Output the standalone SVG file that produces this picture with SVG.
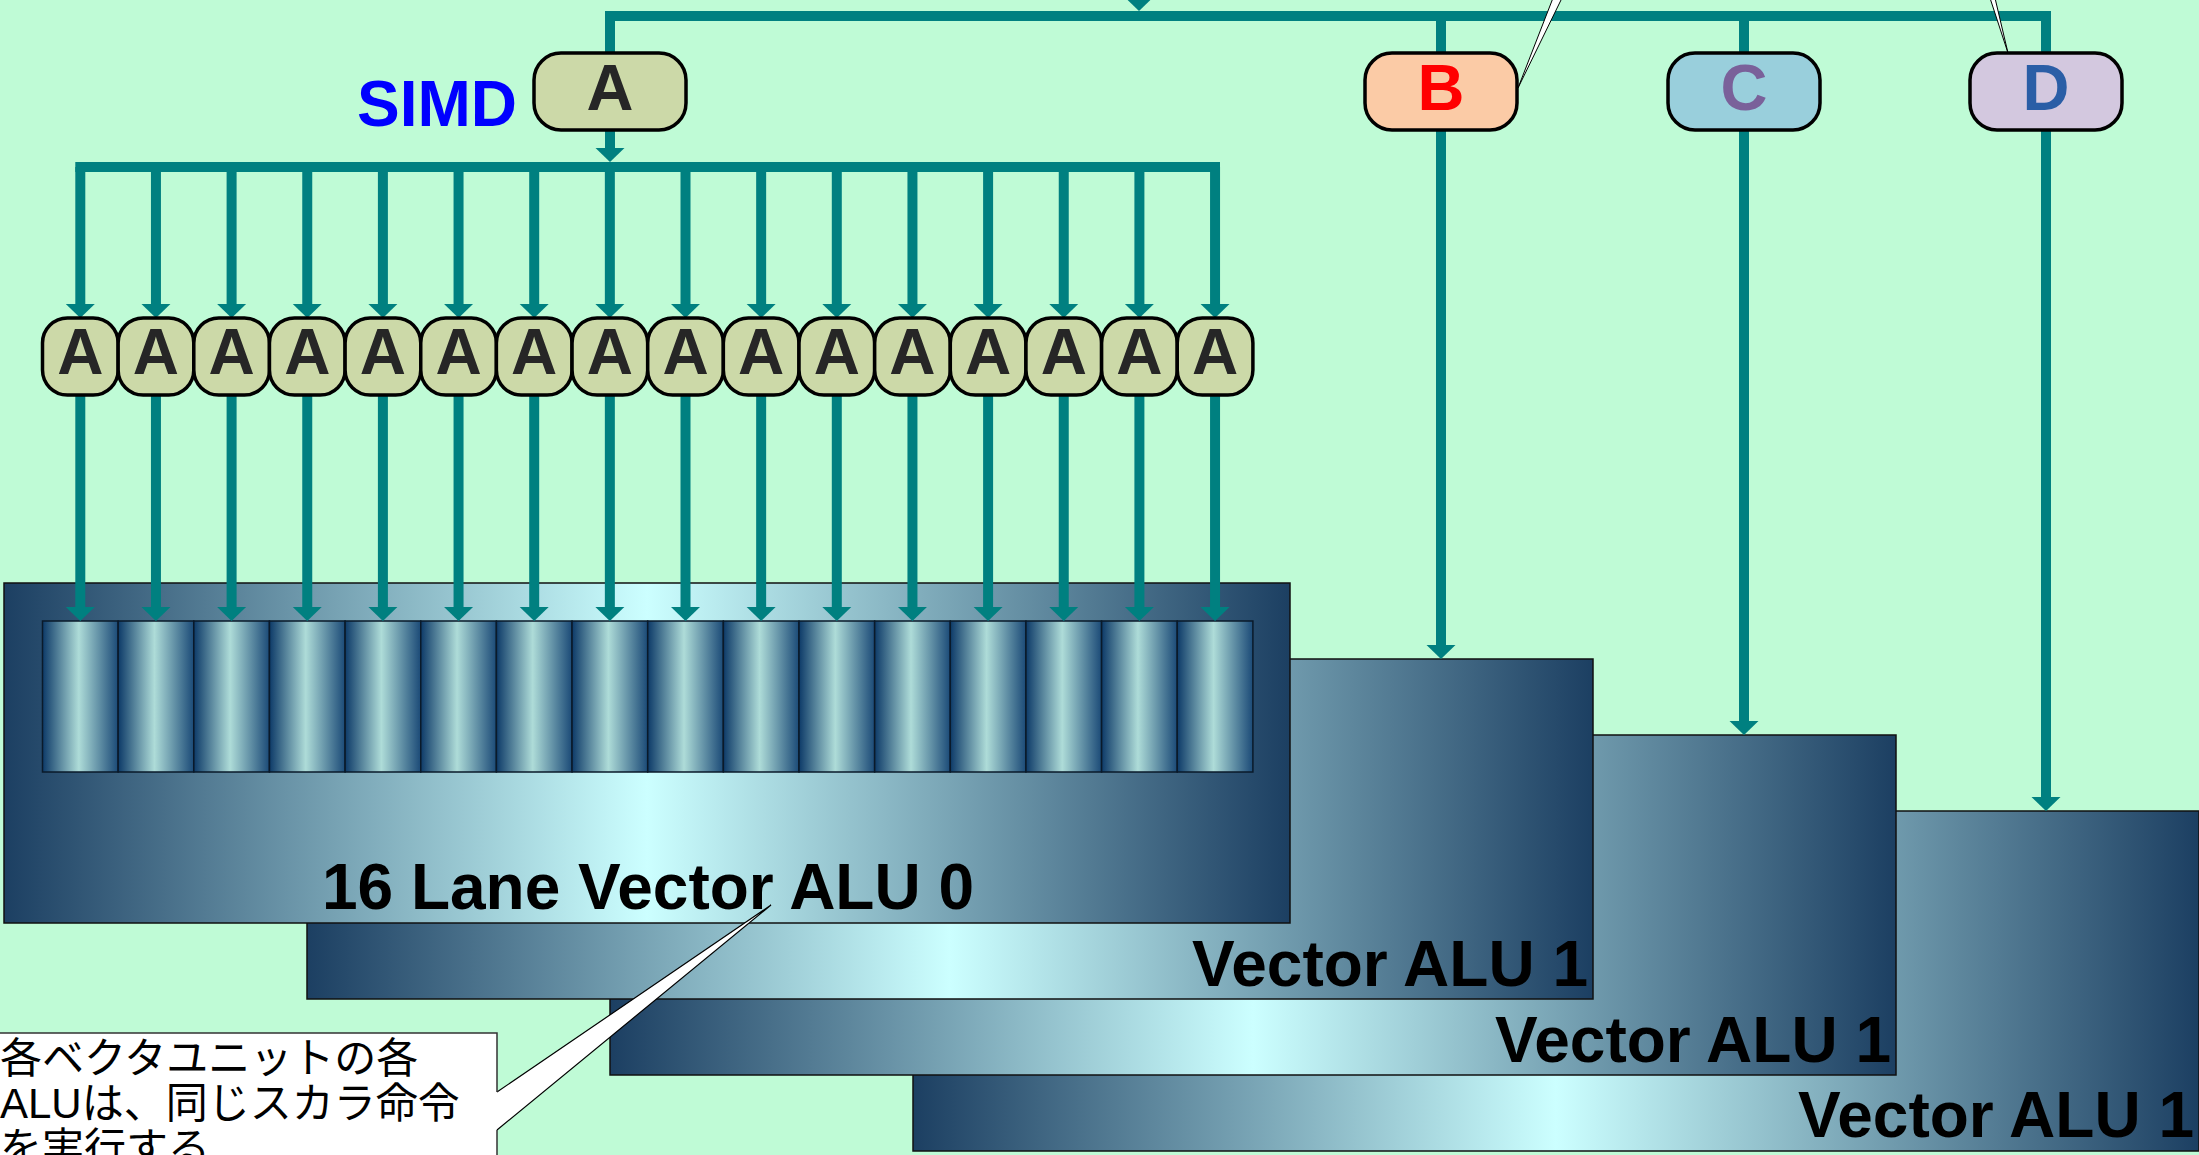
<svg xmlns="http://www.w3.org/2000/svg" width="2199" height="1155" viewBox="0 0 2199 1155">
<style>
.bus{stroke:#008080;stroke-width:10;fill:none;stroke-linecap:butt;stroke-linejoin:miter}
.arr{stroke:#008080;stroke-width:10;fill:none;marker-end:url(#ah)}
.node{stroke:#000;stroke-width:3.5}
.lbl{font-family:"Liberation Sans",Arial,sans-serif;font-weight:bold;text-anchor:middle}
.alu{stroke:#111;stroke-width:1.5;fill:url(#aluGrad)}
.lane{stroke:#0a1a2a;stroke-width:1.5;fill:url(#laneGrad)}
.alut{font-family:"Liberation Sans",Arial,sans-serif;font-weight:bold;font-size:64px;fill:#000}
.jp{font-family:"Liberation Sans","Noto Sans CJK JP",sans-serif;font-size:42px;fill:#000}
</style>
<defs>
<linearGradient id="aluGrad" x1="0" y1="0" x2="1" y2="0">
<stop offset="0" stop-color="#1C3F62"/>
<stop offset="0.5" stop-color="#CCFFFF"/>
<stop offset="1" stop-color="#1C3F62"/>
</linearGradient>
<linearGradient id="laneGrad" x1="0" y1="0" x2="1" y2="0">
<stop offset="0" stop-color="#0D3A68"/>
<stop offset="0.48" stop-color="#AEDCD8"/>
<stop offset="1" stop-color="#1B4A77"/>
</linearGradient>
<marker id="ah" markerUnits="userSpaceOnUse" markerWidth="15" markerHeight="30" viewBox="0 -15 15 30" refX="0" refY="0" orient="auto">
<path d="M0,-14.5 L14,0 L0,14.5 z" fill="#008080"/>
</marker>
</defs>
<rect x="0" y="0" width="2199" height="1155" fill="#BFFBD6"/>

<g id="alu3"><rect class="alu" x="913" y="811" width="1286" height="340"/><text class="alut" x="2194" y="1137" text-anchor="end">Vector ALU 1</text></g>
<g id="alu2"><rect class="alu" x="610" y="735" width="1286" height="340"/><text class="alut" x="1891" y="1062" text-anchor="end">Vector ALU 1</text></g>
<g id="alu1"><rect class="alu" x="307" y="659" width="1286" height="340"/><text class="alut" x="1588" y="986" text-anchor="end">Vector ALU 1</text></g>
<g id="alu0">
<rect class="alu" x="4" y="583" width="1286" height="340"/>
<g id="lanes">
<rect class="lane" x="42.5" y="621" width="75.65" height="151"/>
<rect class="lane" x="118.15" y="621" width="75.65" height="151"/>
<rect class="lane" x="193.8" y="621" width="75.65" height="151"/>
<rect class="lane" x="269.45" y="621" width="75.65" height="151"/>
<rect class="lane" x="345.1" y="621" width="75.65" height="151"/>
<rect class="lane" x="420.75" y="621" width="75.65" height="151"/>
<rect class="lane" x="496.4" y="621" width="75.65" height="151"/>
<rect class="lane" x="572.05" y="621" width="75.65" height="151"/>
<rect class="lane" x="647.7" y="621" width="75.65" height="151"/>
<rect class="lane" x="723.35" y="621" width="75.65" height="151"/>
<rect class="lane" x="799" y="621" width="75.65" height="151"/>
<rect class="lane" x="874.65" y="621" width="75.65" height="151"/>
<rect class="lane" x="950.3" y="621" width="75.65" height="151"/>
<rect class="lane" x="1025.95" y="621" width="75.65" height="151"/>
<rect class="lane" x="1101.6" y="621" width="75.65" height="151"/>
<rect class="lane" x="1177.25" y="621" width="75.65" height="151"/>
</g>
<text class="alut" x="648" y="909" text-anchor="middle">16 Lane Vector ALU 0</text>
</g>

<g id="connectors">
<path class="bus" d="M610,53 V16 H2046 V53"/>
<path class="bus" d="M1441,16 V53 M1744,16 V53"/>
<line class="arr" x1="1139" y1="-30" x2="1139" y2="-3"/>
<line class="arr" x1="610" y1="130" x2="610" y2="148"/>
<path class="bus" d="M75.3,167 H1220"/>
<line class="arr" x1="1441" y1="130" x2="1441" y2="645"/>
<line class="arr" x1="1744" y1="130" x2="1744" y2="721"/>
<line class="arr" x1="2046" y1="130" x2="2046" y2="797"/>
<g id="fanout">
<line class="arr" x1="80.3" y1="167" x2="80.3" y2="304"/>
<line class="arr" x1="155.95" y1="167" x2="155.95" y2="304"/>
<line class="arr" x1="231.6" y1="167" x2="231.6" y2="304"/>
<line class="arr" x1="307.25" y1="167" x2="307.25" y2="304"/>
<line class="arr" x1="382.9" y1="167" x2="382.9" y2="304"/>
<line class="arr" x1="458.55" y1="167" x2="458.55" y2="304"/>
<line class="arr" x1="534.2" y1="167" x2="534.2" y2="304"/>
<line class="arr" x1="609.85" y1="167" x2="609.85" y2="304"/>
<line class="arr" x1="685.5" y1="167" x2="685.5" y2="304"/>
<line class="arr" x1="761.15" y1="167" x2="761.15" y2="304"/>
<line class="arr" x1="836.8" y1="167" x2="836.8" y2="304"/>
<line class="arr" x1="912.45" y1="167" x2="912.45" y2="304"/>
<line class="arr" x1="988.1" y1="167" x2="988.1" y2="304"/>
<line class="arr" x1="1063.75" y1="167" x2="1063.75" y2="304"/>
<line class="arr" x1="1139.4" y1="167" x2="1139.4" y2="304"/>
<line class="arr" x1="1215.05" y1="167" x2="1215.05" y2="304"/>
</g>
<g id="lanefeeds">
<line class="arr" x1="80.3" y1="395" x2="80.3" y2="607"/>
<line class="arr" x1="155.95" y1="395" x2="155.95" y2="607"/>
<line class="arr" x1="231.6" y1="395" x2="231.6" y2="607"/>
<line class="arr" x1="307.25" y1="395" x2="307.25" y2="607"/>
<line class="arr" x1="382.9" y1="395" x2="382.9" y2="607"/>
<line class="arr" x1="458.55" y1="395" x2="458.55" y2="607"/>
<line class="arr" x1="534.2" y1="395" x2="534.2" y2="607"/>
<line class="arr" x1="609.85" y1="395" x2="609.85" y2="607"/>
<line class="arr" x1="685.5" y1="395" x2="685.5" y2="607"/>
<line class="arr" x1="761.15" y1="395" x2="761.15" y2="607"/>
<line class="arr" x1="836.8" y1="395" x2="836.8" y2="607"/>
<line class="arr" x1="912.45" y1="395" x2="912.45" y2="607"/>
<line class="arr" x1="988.1" y1="395" x2="988.1" y2="607"/>
<line class="arr" x1="1063.75" y1="395" x2="1063.75" y2="607"/>
<line class="arr" x1="1139.4" y1="395" x2="1139.4" y2="607"/>
<line class="arr" x1="1215.05" y1="395" x2="1215.05" y2="607"/>
</g>
</g>

<g id="simd-label"><text class="lbl" x="517" y="126" font-size="64" fill="#0000FF" text-anchor="end" style="text-anchor:end">SIMD</text></g>
<g id="nodeA"><rect class="node" x="534" y="53" width="152" height="77" rx="27" fill="#CCD9A8"/><text class="lbl" x="610" y="110" font-size="65" fill="#262626">A</text></g>
<g id="nodeB"><rect class="node" x="1365" y="53" width="152" height="77" rx="27" fill="#FBCBA6"/><text class="lbl" x="1441" y="110" font-size="65" fill="#FF0000">B</text></g>
<g id="nodeC"><rect class="node" x="1668" y="53" width="152" height="77" rx="27" fill="#99CFDC"/><text class="lbl" x="1744" y="110" font-size="65" fill="#7A619A">C</text></g>
<g id="nodeD"><rect class="node" x="1970" y="53" width="152" height="77" rx="27" fill="#D3C8DF"/><text class="lbl" x="2046" y="110" font-size="65" fill="#2A5EA6">D</text></g>

<g id="laneNodes" fill="#CCD9A8">
<g id="a0"><rect class="node" x="42.5" y="318" width="75.65" height="77" rx="25"/><text class="lbl" x="80.3" y="374" font-size="64" fill="#262626">A</text></g>
<g id="a1"><rect class="node" x="118.15" y="318" width="75.65" height="77" rx="25"/><text class="lbl" x="155.95" y="374" font-size="64" fill="#262626">A</text></g>
<g id="a2"><rect class="node" x="193.8" y="318" width="75.65" height="77" rx="25"/><text class="lbl" x="231.6" y="374" font-size="64" fill="#262626">A</text></g>
<g id="a3"><rect class="node" x="269.45" y="318" width="75.65" height="77" rx="25"/><text class="lbl" x="307.25" y="374" font-size="64" fill="#262626">A</text></g>
<g id="a4"><rect class="node" x="345.1" y="318" width="75.65" height="77" rx="25"/><text class="lbl" x="382.9" y="374" font-size="64" fill="#262626">A</text></g>
<g id="a5"><rect class="node" x="420.75" y="318" width="75.65" height="77" rx="25"/><text class="lbl" x="458.55" y="374" font-size="64" fill="#262626">A</text></g>
<g id="a6"><rect class="node" x="496.4" y="318" width="75.65" height="77" rx="25"/><text class="lbl" x="534.2" y="374" font-size="64" fill="#262626">A</text></g>
<g id="a7"><rect class="node" x="572.05" y="318" width="75.65" height="77" rx="25"/><text class="lbl" x="609.85" y="374" font-size="64" fill="#262626">A</text></g>
<g id="a8"><rect class="node" x="647.7" y="318" width="75.65" height="77" rx="25"/><text class="lbl" x="685.5" y="374" font-size="64" fill="#262626">A</text></g>
<g id="a9"><rect class="node" x="723.35" y="318" width="75.65" height="77" rx="25"/><text class="lbl" x="761.15" y="374" font-size="64" fill="#262626">A</text></g>
<g id="a10"><rect class="node" x="799" y="318" width="75.65" height="77" rx="25"/><text class="lbl" x="836.8" y="374" font-size="64" fill="#262626">A</text></g>
<g id="a11"><rect class="node" x="874.65" y="318" width="75.65" height="77" rx="25"/><text class="lbl" x="912.45" y="374" font-size="64" fill="#262626">A</text></g>
<g id="a12"><rect class="node" x="950.3" y="318" width="75.65" height="77" rx="25"/><text class="lbl" x="988.1" y="374" font-size="64" fill="#262626">A</text></g>
<g id="a13"><rect class="node" x="1025.95" y="318" width="75.65" height="77" rx="25"/><text class="lbl" x="1063.75" y="374" font-size="64" fill="#262626">A</text></g>
<g id="a14"><rect class="node" x="1101.6" y="318" width="75.65" height="77" rx="25"/><text class="lbl" x="1139.4" y="374" font-size="64" fill="#262626">A</text></g>
<g id="a15"><rect class="node" x="1177.25" y="318" width="75.65" height="77" rx="25"/><text class="lbl" x="1215.05" y="374" font-size="64" fill="#262626">A</text></g>
</g>

<g id="callout-pointers">
<polygon points="1553,-2 1562,-2 1518,88" fill="#fff" stroke="#000" stroke-width="1"/>
<polygon points="1990,-2 1995,-2 2008,53" fill="#fff" stroke="#000" stroke-width="1"/>
</g>

<g id="callout">
<rect x="-5" y="1033" width="502" height="130" fill="#fff"/>
<polygon points="497,1092 771,905 497,1130" fill="#fff"/>
<polyline points="497,1092 771,905 497,1130" fill="none" stroke="#000" stroke-width="1.2"/>
<path d="M-5,1033 H497 V1092 M497,1130 V1160" fill="none" stroke="#333" stroke-width="1.5"/>
<text class="jp" x="0" y="1073">各ベクタユニットの各</text>
<text class="jp" x="0" y="1118">ALUは、同じスカラ命令</text>
<text class="jp" x="0" y="1163">を実行する</text>
</g>
</svg>
